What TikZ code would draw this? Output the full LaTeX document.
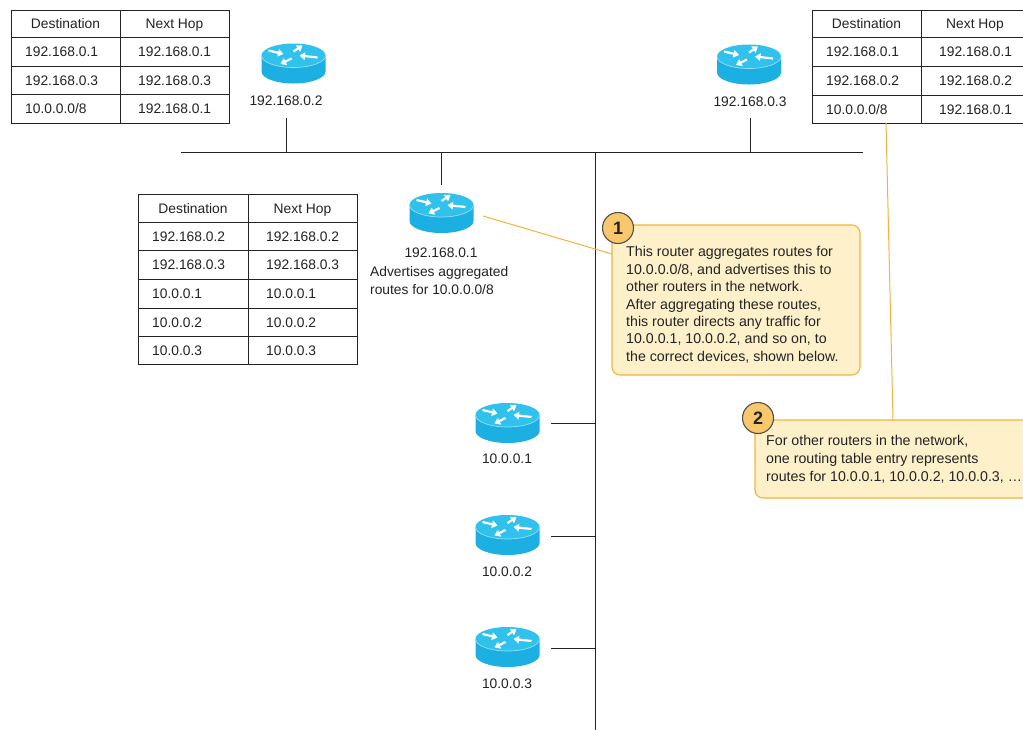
\documentclass[tikz,border=0pt]{standalone}
\usepackage{fontspec}
\setmainfont{Liberation Sans}
\usetikzlibrary{arrows.meta}
\definecolor{rtop}{RGB}{48,193,237}
\definecolor{rside}{RGB}{28,176,226}
\definecolor{redge}{RGB}{150,222,246}
\definecolor{cfill}{RGB}{254,240,201}
\definecolor{cline}{RGB}{242,180,62}
\definecolor{cnum}{RGB}{249,199,108}
\definecolor{ink}{RGB}{35,35,35}
\tikzset{
  wire/.style={draw=ink, line width=1pt},
  tbl/.style={draw=ink, line width=1pt},
  lead/.style={draw=cline, line width=1pt},
  txt/.style={inner sep=0pt, text=ink, font=\fontsize{13.8}{17.5}\selectfont},
  cell/.style={txt, text height=10pt, text depth=0pt},
  cellw/.style={cell, anchor=west},
  ctext/.style={inner sep=0pt, text=ink, font=\fontsize{14.2}{17.4}\selectfont, align=left, anchor=north west},
  calloutbox/.style={draw=cline, fill=cfill, line width=1.1pt, rounded corners=8pt},
  numdot/.style={circle, draw=ink!80, fill=cnum, line width=1.1pt, minimum size=31pt, inner sep=0pt, text=ink, font=\fontsize{18}{18}\selectfont\bfseries},
  rarrow/.style={white, line width=2.2pt, -{Triangle[length=5.5pt,width=7.5pt]}}
}
\newcommand\drawrouter[1]{%
  \begin{scope}[shift={(#1)}]
    \fill[rside] (-32,0) -- (-32,16) arc[start angle=180,end angle=0,x radius=32,y radius=12] -- (32,0) -- cycle;
    \fill[rtop] (0,0) ellipse[x radius=32,y radius=12];
    \draw[redge, line width=0.7pt] (-32,0) arc[start angle=180,end angle=0,x radius=32,y radius=12];
    \draw[rarrow] (-25,-5) -- (-10,-1.5);
    \draw[rarrow] (0,-4) -- (9,-10);
    \draw[rarrow] (-2,3) -- (-13,8.5);
    \draw[rarrow] (24,2) -- (6,0);
  \end{scope}}
\begin{document}
\begin{tikzpicture}[x=1pt,y=-1pt]
\path[use as bounding box, clip] (0,0) rectangle (1023,729);
\fill[white] (0,0) rectangle (1023,729);

% ---- network wiring
\coordinate (busL) at (181,152);
\coordinate (busR) at (863,152);
\coordinate (trunkT) at (595,152);
\coordinate (trunkB) at (595,735);
\draw[wire] (busL) -- (busR);
\draw[wire] (trunkT) -- (trunkB);

% ---- routers
\coordinate (r2) at (293.5,55.5);
\coordinate (r3) at (749,56.5);
\coordinate (r1) at (441.5,205);
\coordinate (h1) at (507.5,415);
\coordinate (h2) at (507.5,527);
\coordinate (h3) at (507.5,639);
\drawrouter{r2}
\drawrouter{r3}
\drawrouter{r1}
\drawrouter{h1}
\drawrouter{h2}
\drawrouter{h3}

\node[cell] (l2) at (286,100.5) {192.168.0.2};
\node[cell] (l3) at (750,101) {192.168.0.3};
\node[cell] (l1) at (441,252) {192.168.0.1};
\node[ctext, font=\fontsize{13.8}{17.5}\selectfont] (l1b) at (370,266.5) {Advertises aggregated\\routes for 10.0.0.0/8};
\node[cell] (lh1) at (507,458.5) {10.0.0.1};
\node[cell] (lh2) at (507,571) {10.0.0.2};
\node[cell] (lh3) at (507,683) {10.0.0.3};

\coordinate (d2) at (286,118);
\coordinate (d3) at (750,118);
\coordinate (d1) at (441,185);
\draw[wire] (d2) -- (d2 |- busL);
\draw[wire] (d3) -- (d3 |- busL);
\draw[wire] (d1) -- (d1 |- busL);
\coordinate (s1) at (551,423.5);
\coordinate (s2) at (551,536);
\coordinate (s3) at (551,648);
\draw[wire] (s1) -- (s1 -| trunkT);
\draw[wire] (s2) -- (s2 -| trunkT);
\draw[wire] (s3) -- (s3 -| trunkT);

% ---- table of 192.168.0.2 (top left)
\draw[tbl] (11,10) rectangle (229,123);
\draw[tbl] (120,10) -- (120,123);
\foreach \y in {37,66,94} \draw[tbl] (11,\y) -- (229,\y);
\node[cell] (ta-h1) at (65.5,23.5) {Destination};
\node[cell] (ta-h2) at (174.5,23.5) {Next Hop};
\node[cellw] (ta-11) at (25,51.5) {192.168.0.1};
\node[cellw] (ta-12) at (138,51.5) {192.168.0.1};
\node[cellw] (ta-21) at (25,80) {192.168.0.3};
\node[cellw] (ta-22) at (138,80) {192.168.0.3};
\node[cellw] (ta-31) at (25,108.5) {10.0.0.0/8};
\node[cellw] (ta-32) at (138,108.5) {192.168.0.1};

% ---- table of 192.168.0.3 (top right)
\draw[tbl] (812,10) rectangle (1029,123);
\draw[tbl] (921,10) -- (921,123);
\foreach \y in {37,66,95} \draw[tbl] (812,\y) -- (1029,\y);
\node[cell] (tb-h1) at (866.5,23.5) {Destination};
\node[cell] (tb-h2) at (975,23.5) {Next Hop};
\node[cellw] (tb-11) at (826,51.5) {192.168.0.1};
\node[cellw] (tb-12) at (939,51.5) {192.168.0.1};
\node[cellw] (tb-21) at (826,80.5) {192.168.0.2};
\node[cellw] (tb-22) at (939,80.5) {192.168.0.2};
\node[cellw] (tb-31) at (826,109) {10.0.0.0/8};
\node[cellw] (tb-32) at (939,109) {192.168.0.1};

% ---- table of 192.168.0.1 (middle)
\draw[tbl] (138,194) rectangle (357,364);
\draw[tbl] (248,194) -- (248,364);
\foreach \y in {222,250,279,308,336} \draw[tbl] (138,\y) -- (357,\y);
\node[cell] (tc-h1) at (193,208) {Destination};
\node[cell] (tc-h2) at (302.5,208) {Next Hop};
\node[cellw] (tc-11) at (152,236) {192.168.0.2};
\node[cellw] (tc-12) at (266,236) {192.168.0.2};
\node[cellw] (tc-21) at (152,264.5) {192.168.0.3};
\node[cellw] (tc-22) at (266,264.5) {192.168.0.3};
\node[cellw] (tc-31) at (152,293.5) {10.0.0.1};
\node[cellw] (tc-32) at (266,293.5) {10.0.0.1};
\node[cellw] (tc-41) at (152,322) {10.0.0.2};
\node[cellw] (tc-42) at (266,322) {10.0.0.2};
\node[cellw] (tc-51) at (152,350) {10.0.0.3};
\node[cellw] (tc-52) at (266,350) {10.0.0.3};

% ---- callout leaders
\coordinate (k1a) at (483,216);
\coordinate (k1b) at (612,254);
\coordinate (k2a) at (886,123);
\coordinate (k2b) at (893,420);
\draw[lead] (k1a) -- (k1b);
\draw[lead] (k2a) -- (k2b);

% ---- callout 1
\path[calloutbox] (612,225) rectangle (860,375);
\node[ctext] (c1t) at (626,246.5) {This router aggregates routes for\\10.0.0.0/8, and advertises this to\\other routers in the network.\\After aggregating these routes,\\this router directs any traffic for\\10.0.0.1, 10.0.0.2, and so on, to\\the correct devices, shown below.};
\node[numdot] (c1) at (618,228) {1};

% ---- callout 2
\path[calloutbox] (755,420) rectangle (1045,498);
\node[ctext, font=\fontsize{14.2}{18}\selectfont] (c2t) at (766,435.5) {For other routers in the network,\\one routing table entry represents\\routes for 10.0.0.1, 10.0.0.2, 10.0.0.3, …};
\node[numdot] (c2) at (758,418) {2};
\end{tikzpicture}
\end{document}
